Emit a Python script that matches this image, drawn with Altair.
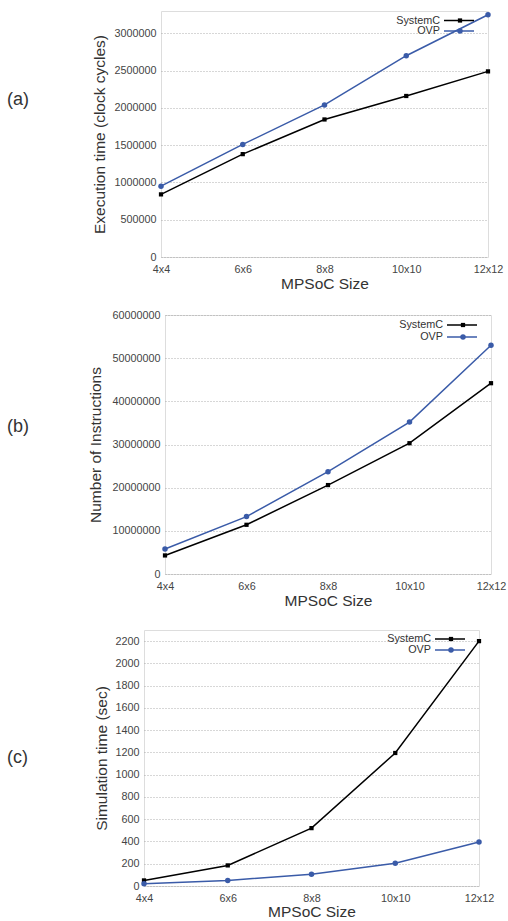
import altair as alt
import pandas as pd

sizes = ["4x4", "6x6", "8x8", "10x10", "12x12"]
series = ["SystemC", "OVP"]
colors = ["#000000", "#3a5ba8"]

exec_systemc = [840000, 1380000, 1845000, 2160000, 2490000]
exec_ovp = [950000, 1510000, 2040000, 2700000, 3250000]
instr_systemc = [4300000, 11400000, 20600000, 30300000, 44200000]
instr_ovp = [5800000, 13300000, 23700000, 35200000, 53000000]
sim_systemc = [50, 185, 520, 1195, 2200]
sim_ovp = [20, 50, 105, 205, 395]

exec_ticks = [0, 500000, 1000000, 1500000, 2000000, 2500000, 3000000]
instr_ticks = [0, 10000000, 20000000, 30000000, 40000000, 50000000, 60000000]
sim_ticks = list(range(0, 2201, 200))

FONT = "Liberation Sans"


def panel(label, sc, ovp, ytitle, ydomain, yticks, w, h, spacer_w, plot_top,
          label_y, title_x, title_y, leg_y):
    df = pd.DataFrame({
        "size": sizes * 2,
        "value": sc + ovp,
        "series": ["SystemC"] * len(sizes) + ["OVP"] * len(sizes),
    })
    x = alt.X("size:N", sort=sizes,
              scale=alt.Scale(type="point", padding=0),
              axis=alt.Axis(title="MPSoC Size", labelAngle=0, ticks=False,
                            domain=False, grid=False, labelPadding=6,
                            labelFontSize=10.8, titleFontSize=15.5,
                            titleFontWeight="normal", titleY=title_y,
                            titleBaseline="middle", labelColor="#444",
                            titleColor="#333"))
    y = alt.Y("value:Q",
              scale=alt.Scale(domain=ydomain, nice=False, zero=True),
              axis=alt.Axis(values=yticks, format="d", title=ytitle,
                            ticks=False, domain=False, grid=True,
                            gridDash=[1, 2], gridColor="#999",
                            gridWidth=0.8, labelPadding=5, labelFontSize=10.8,
                            titleFontSize=15.5, titleFontWeight="normal",
                            titleX=title_x, titleBaseline="middle",
                            labelColor="#444", titleColor="#333"))
    color = alt.Color("series:N", scale=alt.Scale(domain=series, range=colors),
                      legend=None)
    base = alt.Chart(df).encode(x=x, y=y, color=color)
    lines = base.mark_line(strokeWidth=1.5)
    sc_pts = base.transform_filter(alt.datum.series == "SystemC").mark_square(
        size=18, opacity=1)
    ovp_pts = base.transform_filter(alt.datum.series == "OVP").mark_circle(
        size=30, opacity=1)

    layers = [lines, sc_pts, ovp_pts]
    for i, s in enumerate(series):
        ly = leg_y[i]
        ldf = pd.DataFrame({"s": [s]})
        layers.append(alt.Chart(ldf).mark_text(
            align="right", baseline="middle", fontSize=10.8, font=FONT,
            color="#333").encode(text="s:N", x=alt.value(w - 48),
                                  y=alt.value(ly)))
        layers.append(alt.Chart(ldf).mark_rule(
            strokeWidth=1.5, color=colors[i]).encode(
            x=alt.value(w - 44), x2=alt.value(w - 14), y=alt.value(ly)))
        shape = "square" if s == "SystemC" else "circle"
        layers.append(alt.Chart(ldf).mark_point(
            shape=shape, filled=True, opacity=1, color=colors[i],
            size=18 if s == "SystemC" else 30).encode(
            x=alt.value(w - 28), y=alt.value(ly)))
    main = alt.layer(*layers).properties(width=w, height=h)

    lab = alt.Chart(pd.DataFrame({"t": [label]})).mark_text(
        align="left", baseline="middle", fontSize=18, font=FONT, color="#333"
    ).encode(text="t:N", x=alt.value(0),
             y=alt.value(label_y - plot_top)).properties(
        width=spacer_w, height=h, view=alt.ViewBackground(stroke=None))
    return alt.hconcat(lab, main, spacing=0)


pa = panel("(a)", exec_systemc, exec_ovp, "Execution time (clock cycles)",
           [0, 3300000], exec_ticks, 327, 246, 84, 11, 100, -62, 26,
           [9.5, 20])
pb = panel("(b)", instr_systemc, instr_ovp, "Number of Instructions",
           [0, 60000000], instr_ticks, 326, 259, 80, 315, 427, -70, 26,
           [10, 22])
pc = panel("(c)", sim_systemc, sim_ovp, "Simulation time (sec)",
           [0, 2300], sim_ticks, 335, 256, 86, 629, 757, -43, 25,
           [9, 20])

chart = alt.vconcat(alt.vconcat(pa, pb, spacing=16), pc, spacing=20).properties(
    padding={"left": 7, "top": 10, "right": 0, "bottom": 0}
).configure_view(stroke="#555", strokeWidth=1).configure(
    font=FONT, background="white")

chart.save("out.html", embed_options={"renderer": "svg", "actions": False})
